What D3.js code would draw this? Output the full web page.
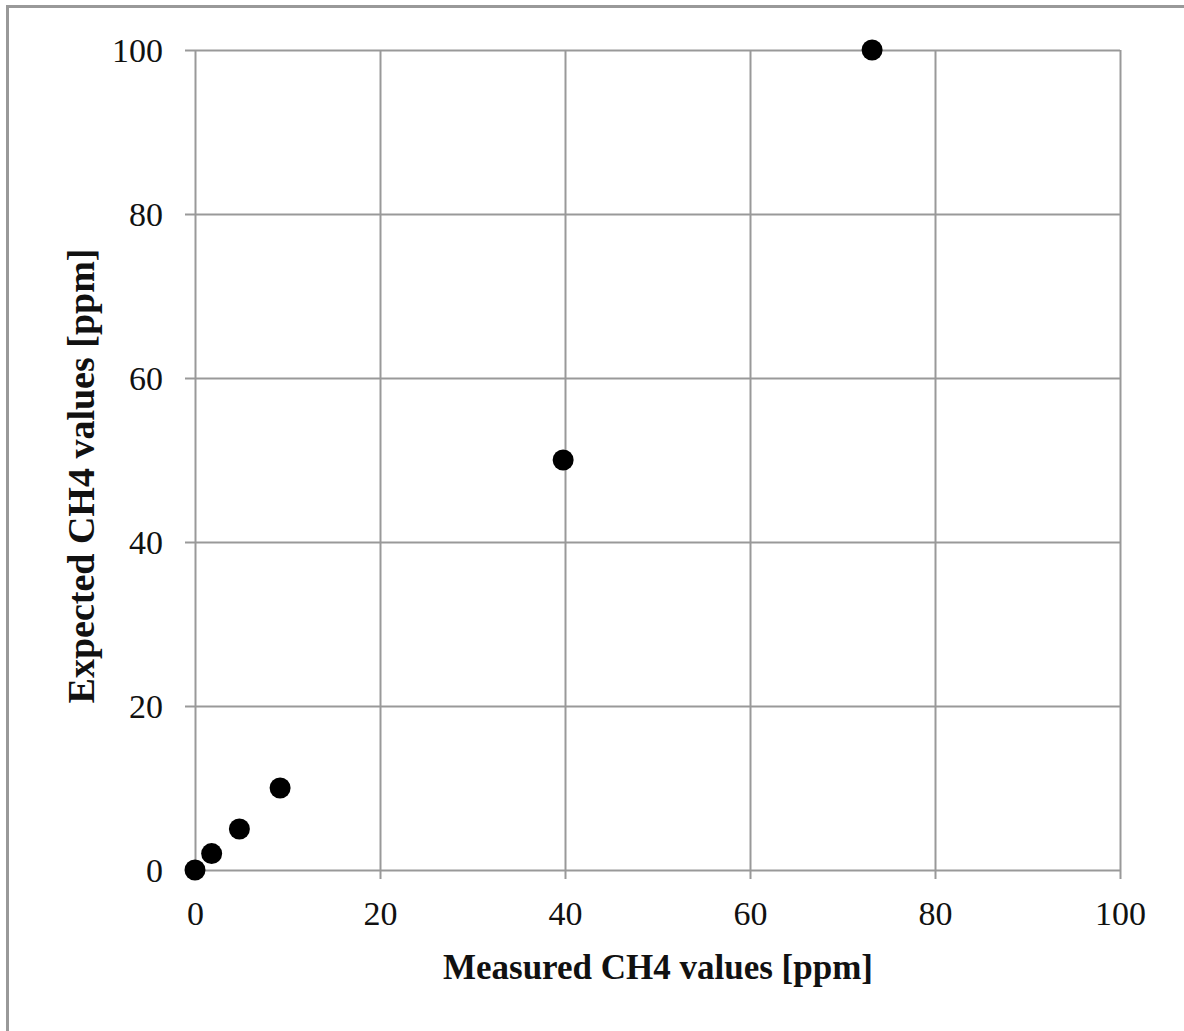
<!DOCTYPE html>
<html><head><meta charset="utf-8">
<script src="https://cdn.jsdelivr.net/npm/d3@7"></script>
<style>body{margin:0;background:#fff}svg{display:block}</style>
</head><body>
<script>
const measured = [0, 1.8, 4.8, 9.2, 39.8, 73.2];
const expected = [0, 2, 5, 10, 50, 100];
const xTicks = [0, 20, 40, 60, 80, 100];
const yTicks = [0, 20, 40, 60, 80, 100];
const xTitle = "Measured CH4 values [ppm]";
const yTitle = "Expected CH4 values [ppm]";

const W = 1184, H = 1031;
const svg = d3.select("body").append("svg").attr("width", W).attr("height", H);
svg.append("rect").attr("x", 7.5).attr("y", 6.5).attr("width", 1200).attr("height", 1100)
  .attr("fill", "#fff").attr("stroke", "#999").attr("stroke-width", 3);

const x = d3.scaleLinear().domain([0, 100]).range([195, 1120]);
const y = d3.scaleLinear().domain([0, 100]).range([870, 50]);
const font = "'Liberation Serif', serif";

const gx = svg.append("g").attr("transform", "translate(0,870)")
  .call(d3.axisBottom(x).tickValues(xTicks).tickSize(-820).tickSizeOuter(0).tickPadding(0));
gx.select(".domain").remove();
gx.selectAll(".tick line").attr("stroke", "#999").attr("stroke-width", 2).attr("y1", 9);
gx.selectAll(".tick text").attr("font-family", font).attr("font-size", 34).attr("fill", "#111")
  .attr("y", 55).attr("dy", 0);

const gy = svg.append("g").attr("transform", "translate(195,0)")
  .call(d3.axisLeft(y).tickValues(yTicks).tickSize(-925).tickSizeOuter(0).tickPadding(0));
gy.select(".domain").remove();
gy.selectAll(".tick line").attr("stroke", "#999").attr("stroke-width", 2).attr("x1", -10);
gy.selectAll(".tick text").attr("font-family", font).attr("font-size", 34).attr("fill", "#111")
  .attr("x", -32).attr("dy", "0.34em");

svg.append("g").selectAll("circle").data(measured.map((m, i) => [m, expected[i]]))
  .join("circle").attr("cx", d => x(d[0])).attr("cy", d => y(d[1])).attr("r", 10.5).attr("fill", "#000");

svg.append("text").attr("x", 658).attr("y", 979).attr("text-anchor", "middle")
  .attr("font-family", font).attr("font-weight", "bold").attr("font-size", 35).attr("fill", "#111")
  .text(xTitle);
svg.append("text").attr("transform", "translate(94,476) rotate(-90)").attr("text-anchor", "middle")
  .attr("font-family", font).attr("font-weight", "bold").attr("font-size", 38).attr("fill", "#111")
  .text(yTitle);
</script>
</body></html>
